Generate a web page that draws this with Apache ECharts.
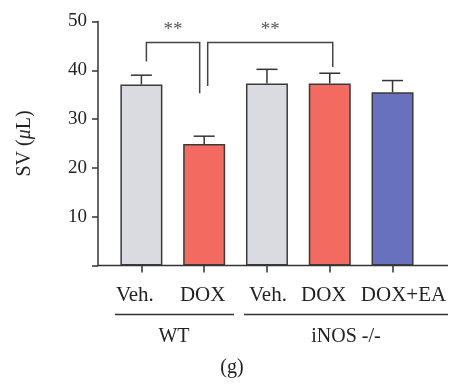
<!DOCTYPE html>
<html><head><meta charset="utf-8">
<script src="https://cdn.jsdelivr.net/npm/echarts@6/dist/echarts.min.js"></script>
<style>html,body{margin:0;padding:0;background:#fff}#c{width:449px;height:385px}</style>
</head><body><div id="c"></div>
<script>
var categories = ['Veh.', 'DOX', 'Veh.', 'DOX', 'DOX+EA'];
var means = [37.1, 24.9, 37.3, 37.3, 35.5];
var errors = [1.9, 1.6, 2.9, 2.1, 2.4];
var barColors = ['#dadbe0', '#f26a60', '#dadbe0', '#f26a60', '#6771be'];
var yTicks = [0, 10, 20, 30, 40, 50];
var groups = ['WT', 'iNOS -/-'];
var sigLabels = ['**', '**'];
var panelLabel = '(g)';

var FONT = '"Liberation Serif", "DejaVu Serif", serif';
var labelPads = [[0, 13, 0, 0], [0, 3, 0, 0], [0, 0, 0, 2], [0, 12, 0, 0], [0, 0, 0, 22]];
var rich = {};
labelPads.forEach(function (p, i) {
  rich['s' + i] = {fontFamily: FONT, fontSize: 21, color: '#222', padding: p};
});
var chart = echarts.init(document.getElementById('c'), null, {renderer: 'canvas'});
var option = {
  animation: false,
  grid: {left: 110, right: 23, top: 21.5, bottom: 119.5},
  xAxis: {
    type: 'category', data: categories,
    axisLine: {show: false},
    axisTick: {show: true, alignWithLabel: true, length: 7, lineStyle: {color: '#333', width: 1.5}},
    axisLabel: {color: '#222', fontFamily: FONT, fontSize: 21, margin: 19, interval: 0,
      formatter: function (v, i) { return '{s' + i + '|' + v + '}'; }, rich: rich}
  },
  yAxis: {
    type: 'value', min: yTicks[0], max: yTicks[yTicks.length - 1], interval: 10,
    offset: 12,
    splitLine: {show: false},
    axisLine: {show: true, lineStyle: {color: '#333', width: 1.5}},
    axisTick: {show: true, length: 6, lineStyle: {color: '#333', width: 1.5}},
    axisLabel: {color: '#222', fontFamily: FONT, fontSize: 19, margin: 11,
      formatter: function (v) { return v === 0 ? '' : String(v); }},
    name: '{a|SV (}{i|μ}{a|L)}', nameLocation: 'middle', nameGap: 63,
    nameTextStyle: {rich: {
      a: {fontFamily: FONT, fontSize: 20, color: '#222'},
      i: {fontFamily: FONT, fontSize: 20, color: '#222', fontStyle: 'italic'}
    }}
  },
  series: [{
    type: 'bar', barWidth: 42,
    data: means.map(function (v, i) {
      return {value: v, itemStyle: {color: barColors[i], borderColor: '#3a3a3a', borderWidth: 1.5}};
    }),
    z: 2
  }, {
    type: 'custom',
    data: means.map(function (v, i) { return [i, v, v + errors[i]]; }),
    renderItem: function (params, api) {
      var x = api.value(0);
      var p0 = api.coord([x, api.value(1)]);
      var p1 = api.coord([x, api.value(2)]);
      var hw = 10.5;
      var st = {stroke: '#333', lineWidth: 1.5};
      return {type: 'group', children: [
        {type: 'line', shape: {x1: p0[0], y1: p0[1], x2: p1[0], y2: p1[1]}, style: st},
        {type: 'line', shape: {x1: p1[0] - hw, y1: p1[1], x2: p1[0] + hw, y2: p1[1]}, style: st}
      ]};
    },
    z: 3
  }]
};
chart.setOption(option);

function px(i, v) { return chart.convertToPixel({xAxisIndex: 0, yAxisIndex: 0}, [i, v]); }
var st = {stroke: '#444', lineWidth: 1.5, fill: null};
var b1L = px(0, 41.8), b1T = px(0, 45.7), b1R = px(1, 35.3);
var b2L = px(1, 36.8), b2T = px(1, 45.7), b2R = px(3, 40.7);
var x1L = b1L[0] + 5, x1R = b1R[0] - 4.5, x2L = b2L[0] + 3.5, x2R = b2R[0] + 3;
var axisY = px(0, 0)[1];
var starY = px(0, 48.3)[1];
var texts = {fontFamily: FONT, fill: '#222', textAlign: 'center', textVerticalAlign: 'middle'};
chart.setOption({graphic: [
  {type: 'line', shape: {x1: 98, y1: axisY, x2: 448, y2: axisY}, style: {stroke: '#333', lineWidth: 1.5}},
  {type: 'polyline', shape: {points: [[x1L, b1L[1]], [x1L, b1T[1]], [x1R, b1T[1]], [x1R, b1R[1]]]}, style: st},
  {type: 'polyline', shape: {points: [[x2L, b2L[1]], [x2L, b2T[1]], [x2R, b2T[1]], [x2R, b2R[1]]]}, style: st},
  {type: 'text', x: (x1L + x1R) / 2, y: starY, style: Object.assign({}, texts, {text: sigLabels[0], fontSize: 19, fill: '#555'})},
  {type: 'text', x: (x2L + x2R) / 2, y: starY, style: Object.assign({}, texts, {text: sigLabels[1], fontSize: 19, fill: '#555'})},
  {type: 'line', shape: {x1: 115, y1: 314.5, x2: 234, y2: 314.5}, style: {stroke: '#333', lineWidth: 1.5}},
  {type: 'line', shape: {x1: 244, y1: 314.5, x2: 448, y2: 314.5}, style: {stroke: '#333', lineWidth: 1.5}},
  {type: 'text', x: 174, y: 337, style: Object.assign({}, texts, {text: groups[0], fontSize: 20})},
  {type: 'text', x: 346, y: 337, style: Object.assign({}, texts, {text: groups[1], fontSize: 20})},
  {type: 'text', x: 232, y: 368, style: Object.assign({}, texts, {text: panelLabel, fontSize: 20})}
]});
</script></body></html>
